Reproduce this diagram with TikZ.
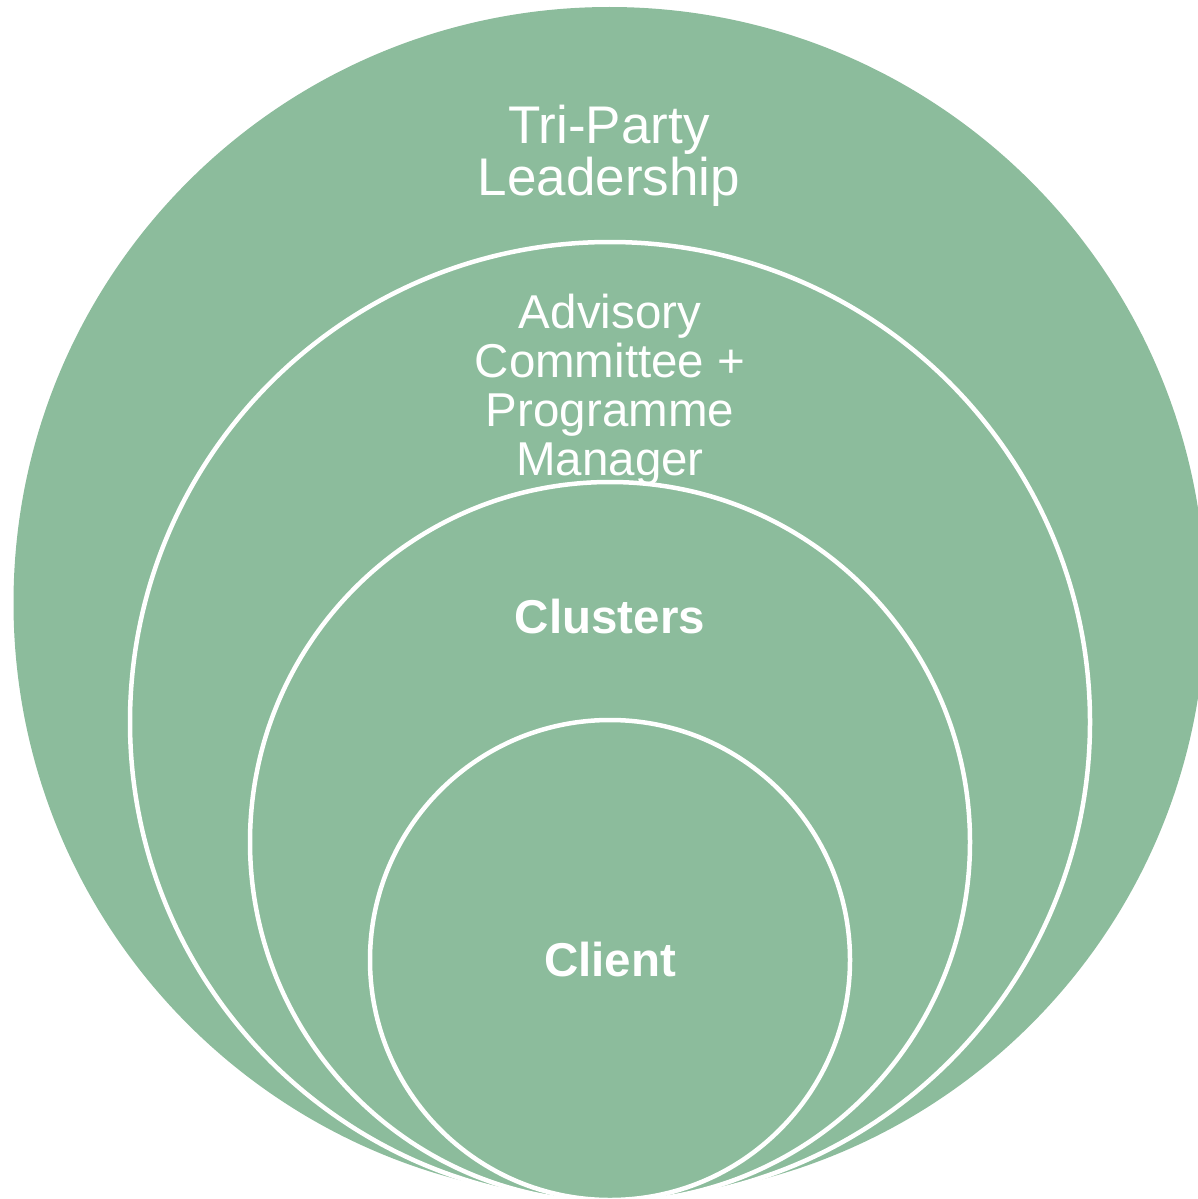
\documentclass[tikz,border=0pt]{standalone}
\usepackage{fontspec}
\setmainfont{Liberation Sans}
\definecolor{ringgreen}{RGB}{140,188,156}
\begin{document}
\begin{tikzpicture}[x=1pt,y=-1pt,
  ring/.style={fill=ringgreen,draw=white,line width=4.5pt},
  lbl/.style={text=white,align=center,inner sep=0pt}]
\useasboundingbox (0,0) rectangle (1198,1199);
\clip (0,0) rectangle (1198,1199);
\fill[ringgreen] (609.5,603) circle[radius=596];
\draw[ring] (610,722) circle[radius=480];
\draw[ring] (610,842) circle[radius=360];
\draw[ring] (610,960) circle[radius=240];
\node[lbl,font=\fontsize{53}{52}\selectfont] (tri) at (609,156) {Tri-Party\\Leadership};
\node[lbl,font=\fontsize{47.5}{49}\selectfont] (adv) at (610,390) {Advisory\\Committee +\\Programme\\Manager};
\node[lbl,font=\fontsize{47.5}{49}\selectfont\bfseries] (clu) at (610,617) {Clusters};
\node[lbl,font=\fontsize{47.5}{49}\selectfont\bfseries] (cli) at (610,960) {Client};
\end{tikzpicture}
\end{document}
